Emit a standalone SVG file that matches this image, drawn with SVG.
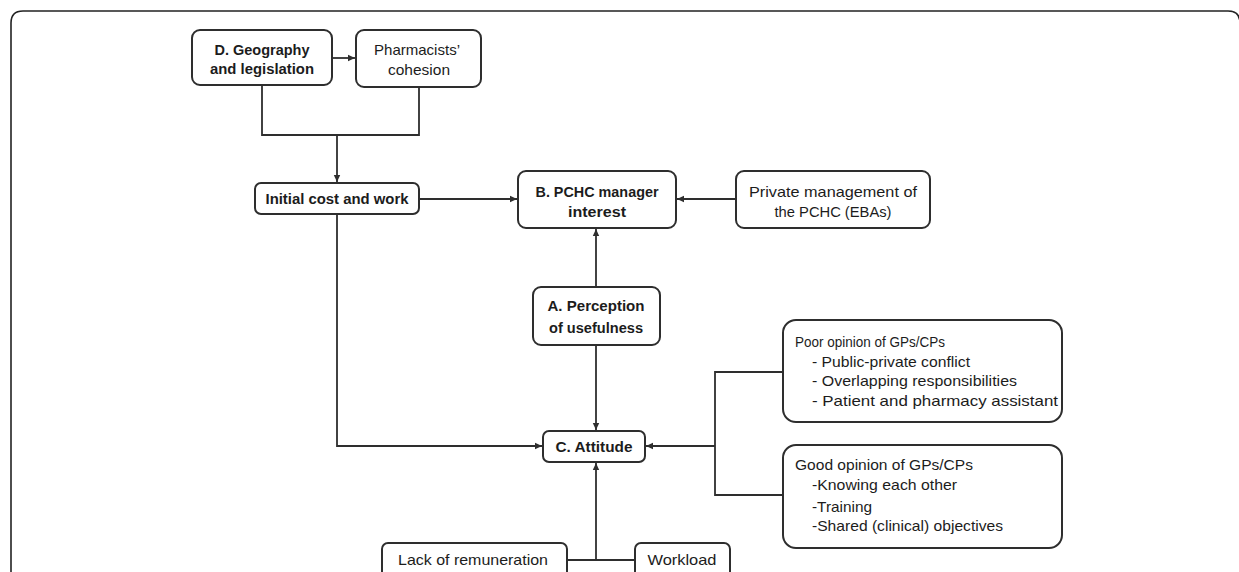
<svg xmlns="http://www.w3.org/2000/svg" width="1239" height="572" viewBox="0 0 1239 572">
<style>
.box{fill:#fff;stroke:#2e2e2e;stroke-width:2}
.ln{fill:none;stroke:#2e2e2e;stroke-width:1.8}
.b{font-family:"Liberation Sans",Arial,sans-serif;font-weight:bold;font-size:14px;fill:#1c1c1c}
.r{font-family:"Liberation Sans",Arial,sans-serif;font-size:14.5px;fill:#1c1c1c}
.c{text-anchor:middle}
</style>
<defs>
<marker id="ah" markerWidth="8" markerHeight="8" refX="7" refY="4" orient="auto" markerUnits="userSpaceOnUse">
<path d="M0,0.8 L7,4 L0,7.2 Z" fill="#2e2e2e"/>
</marker>
</defs>
<rect width="1239" height="572" fill="#fff"/>
<path d="M11 572 V23 Q11 11 23 11 H1228 Q1240 11 1240 23 V572" fill="none" stroke="#222" stroke-width="1.6"/>

<g id="connectors">
<path class="ln" d="M332 58 H355" marker-end="url(#ah)"/>
<path class="ln" d="M262 85 V135 H419 V87"/>
<path class="ln" d="M337 135 V182" marker-end="url(#ah)"/>
<path class="ln" d="M419 199 H517" marker-end="url(#ah)"/>
<path class="ln" d="M736 199 H677" marker-end="url(#ah)"/>
<path class="ln" d="M596 287 V229" marker-end="url(#ah)"/>
<path class="ln" d="M596 345 V430" marker-end="url(#ah)"/>
<path class="ln" d="M337 214 V446 H542" marker-end="url(#ah)"/>
<path class="ln" d="M783 372 H715 V495 H783"/>
<path class="ln" d="M715 446 H646" marker-end="url(#ah)"/>
<path class="ln" d="M567 560 H635"/>
<path class="ln" d="M596 560 V463" marker-end="url(#ah)"/>
</g>

<g id="node-d">
<rect class="box" x="192" y="30" width="140" height="55" rx="8"/>
<text class="b c" x="262" y="55" textLength="95" lengthAdjust="spacingAndGlyphs">D. Geography</text>
<text class="b c" x="262" y="74" textLength="104" lengthAdjust="spacingAndGlyphs">and legislation</text>
</g>
<g id="node-pharm">
<rect class="box" x="356" y="30" width="125" height="57" rx="8"/>
<text class="r c" x="417" y="55" textLength="86" lengthAdjust="spacingAndGlyphs">Pharmacists’</text>
<text class="r c" x="419" y="75" textLength="62" lengthAdjust="spacingAndGlyphs">cohesion</text>
</g>
<g id="node-initial">
<rect class="box" x="255" y="183" width="164" height="31" rx="6"/>
<text class="b c" x="337" y="204" textLength="143" lengthAdjust="spacingAndGlyphs">Initial cost and work</text>
</g>
<g id="node-b">
<rect class="box" x="518" y="171" width="158" height="57" rx="8"/>
<text class="b c" x="597" y="197" textLength="123" lengthAdjust="spacingAndGlyphs">B. PCHC manager</text>
<text class="b c" x="597" y="217" textLength="58" lengthAdjust="spacingAndGlyphs">interest</text>
</g>
<g id="node-private">
<rect class="box" x="736" y="171" width="194" height="57" rx="8"/>
<text class="r c" x="833" y="197" textLength="168" lengthAdjust="spacingAndGlyphs">Private management of</text>
<text class="r c" x="833" y="217" textLength="117" lengthAdjust="spacingAndGlyphs">the PCHC (EBAs)</text>
</g>
<g id="node-a">
<rect class="box" x="533" y="287" width="127" height="58" rx="8"/>
<text class="b c" x="596" y="311" textLength="97" lengthAdjust="spacingAndGlyphs">A. Perception</text>
<text class="b c" x="596" y="333" textLength="94" lengthAdjust="spacingAndGlyphs">of usefulness</text>
</g>
<g id="node-c">
<rect class="box" x="543" y="431" width="102" height="31" rx="6"/>
<text class="b c" x="594" y="452" textLength="77" lengthAdjust="spacingAndGlyphs">C. Attitude</text>
</g>
<g id="node-poor">
<rect class="box" x="783" y="320" width="279" height="102" rx="13"/>
<text class="r" x="795" y="347" font-size="13" textLength="150" lengthAdjust="spacingAndGlyphs">Poor opinion of GPs/CPs</text>
<text class="r" x="812" y="367" textLength="158" lengthAdjust="spacingAndGlyphs">- Public-private conflict</text>
<text class="r" x="812" y="386" textLength="205" lengthAdjust="spacingAndGlyphs">- Overlapping responsibilities</text>
<text class="r" x="812" y="406" textLength="246" lengthAdjust="spacingAndGlyphs">- Patient and pharmacy assistant</text>
</g>
<g id="node-good">
<rect class="box" x="783" y="445" width="279" height="103" rx="13"/>
<text class="r" x="795" y="470" textLength="178" lengthAdjust="spacingAndGlyphs">Good opinion of GPs/CPs</text>
<text class="r" x="812" y="490" textLength="145" lengthAdjust="spacingAndGlyphs">-Knowing each other</text>
<text class="r" x="812" y="512" textLength="60" lengthAdjust="spacingAndGlyphs">-Training</text>
<text class="r" x="812" y="531" textLength="191" lengthAdjust="spacingAndGlyphs">-Shared (clinical) objectives</text>
</g>
<g id="node-lack">
<rect class="box" x="382" y="543" width="185" height="50" rx="6"/>
<text class="r c" x="473" y="565" textLength="150" lengthAdjust="spacingAndGlyphs">Lack of remuneration</text>
</g>
<g id="node-workload">
<rect class="box" x="635" y="543" width="95" height="50" rx="6"/>
<text class="r c" x="682" y="565" textLength="69" lengthAdjust="spacingAndGlyphs">Workload</text>
</g>
</svg>
